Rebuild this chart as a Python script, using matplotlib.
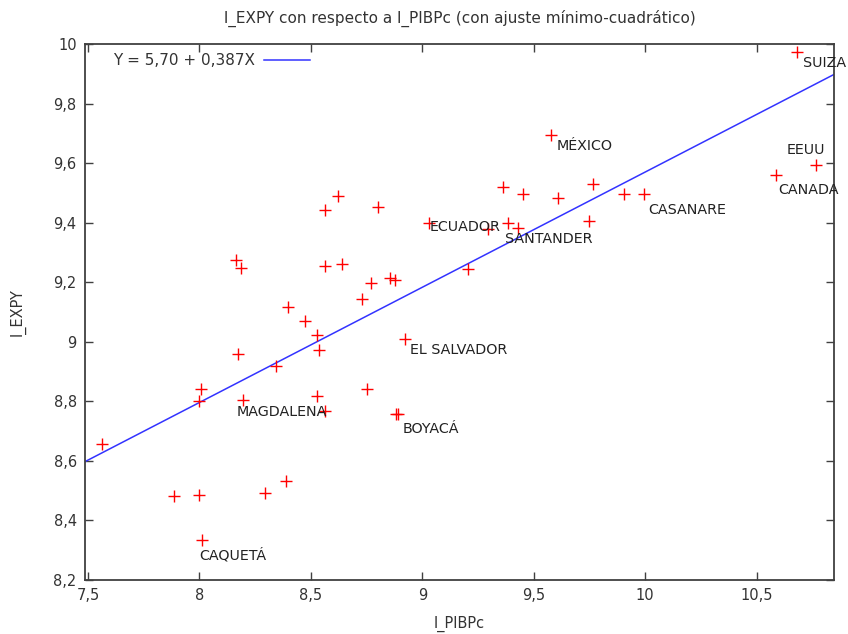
import numpy as np
import matplotlib.pyplot as plt
from matplotlib.ticker import FixedLocator

# ── DATA ──────────────────────────────────────────────────────
l_pibpc = [8.166, 8.187, 8.565, 8.620, 8.801, 8.565, 8.640, 8.855, 8.879, 8.771,
           8.730, 8.397, 8.472, 9.032, 10.682, 9.579, 10.766, 10.586, 9.361, 9.453,
           9.608, 9.766, 9.905, 9.996, 9.385, 9.428, 9.294, 9.749, 9.207, 8.529,
           8.535, 8.175, 8.343, 8.921, 8.008, 7.999, 8.195, 8.529, 8.563, 8.752,
           8.880, 8.890, 7.564, 7.886, 7.999, 8.294, 8.388, 8.013]
l_expy = [9.273, 9.247, 9.442, 9.488, 9.451, 9.253, 9.262, 9.214, 9.206, 9.199,
          9.145, 9.118, 9.071, 9.400, 9.972, 9.694, 9.595, 9.559, 9.519, 9.497,
          9.482, 9.531, 9.497, 9.497, 9.398, 9.383, 9.379, 9.406, 9.244, 9.023,
          8.973, 8.960, 8.919, 9.009, 8.842, 8.802, 8.803, 8.819, 8.766, 8.842,
          8.759, 8.759, 8.658, 8.481, 8.487, 8.492, 8.531, 8.333]

# labelled observations: name -> index into the arrays above
label_names = ["ECUADOR", "SUIZA", "MÉXICO", "EEUU", "CANADA", "CASANARE",
               "SANTANDER", "EL SALVADOR", "MAGDALENA", "BOYACÁ", "CAQUETÁ"]
label_idx = [13, 14, 15, 16, 17, 23, 25, 33, 36, 40, 47]

# OLS fit as reported
intercept = 5.70
slope = 0.387

xticks = [7.5, 8, 8.5, 9, 9.5, 10, 10.5]
yticks = [8.2, 8.4, 8.6, 8.8, 9.0, 9.2, 9.4, 9.6, 9.8, 10.0]
xlim = (7.487, 10.847)
ylim = (8.2, 10.0)

# label offsets in pixels (dx, dy) relative to marker
label_off = {
    "ECUADOR": (0, -4), "SUIZA": (6, -11), "MÉXICO": (5, -11), "EEUU": (-29, 15),
    "CANADA": (2, -15), "CASANARE": (4, -16), "SANTANDER": (-13, -11),
    "EL SALVADOR": (5, -11), "MAGDALENA": (-6, -12), "BOYACÁ": (7, -15),
    "CAQUETÁ": (-3, -15),
}


def fmt(v):
    s = f"{v:g}"
    return s.replace(".", ",")


# ── PLOT ──────────────────────────────────────────────────────
fig = plt.figure(figsize=(8.48, 6.34), dpi=100)
ax = fig.add_axes([85 / 848, 54 / 634, 749 / 848, 536 / 634])

ax.plot(l_pibpc, l_expy, linestyle="none", marker="+", color="#ff0000",
        markersize=8, markeredgewidth=1.0, zorder=3)

xs = np.array(xlim)
ax.plot(xs, intercept + slope * xs, color="#3333ff", lw=1.1, zorder=2,
        label=f"Y = {intercept:.2f} + {slope:.3f}X".replace(".", ","))

for name, i in zip(label_names, label_idx):
    dx, dy = label_off[name]
    ax.annotate(name, (l_pibpc[i], l_expy[i]), xytext=(dx * 0.72, dy * 0.72),
                textcoords="offset points", ha="left", va="center",
                fontsize=10.3, color="#222222", zorder=4)

ax.set_xlim(*xlim)
ax.set_ylim(*ylim)
ax.xaxis.set_major_locator(FixedLocator(xticks))
ax.yaxis.set_major_locator(FixedLocator(yticks))
ax.set_xticklabels([fmt(v) for v in xticks])
ax.set_yticklabels([fmt(v) for v in yticks])

ax.tick_params(direction="in", length=6, width=1.0, color="#404040",
               top=True, right=True, labelsize=10.5, labelcolor="#333333", pad=6)
for sp in ax.spines.values():
    sp.set_color("#404040")
    sp.set_linewidth(1.3)

ax.set_xlabel("l_PIBPc", fontsize=10.5, color="#333333", labelpad=9)
ax.set_ylabel("l_EXPY", fontsize=10.5, color="#333333", labelpad=20)
ax.set_title("l_EXPY con respecto a l_PIBPc (con ajuste mínimo-cuadrático)",
             fontsize=11, color="#333333", pad=15)

leg = ax.legend(loc="upper left", frameon=False, markerfirst=False,
                fontsize=11, handlelength=3.0, handletextpad=0.6,
                borderaxespad=0.2, bbox_to_anchor=(0.025, 1.0))
for t in leg.get_texts():
    t.set_color("#333333")

fig.savefig("out.png", dpi=100)
plt.close(fig)
